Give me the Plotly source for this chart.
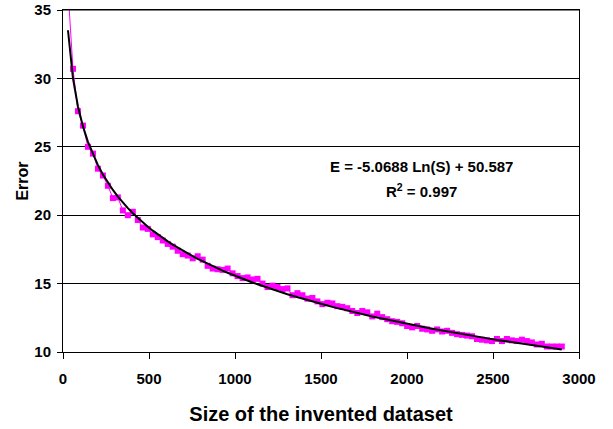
import numpy as np
import plotly.graph_objects as go

sizes = [29 * k for k in range(1, 101)]
errors = [
    36.5, 30.7, 27.6, 26.55, 25.0, 24.5, 23.4, 22.9, 22.15, 21.25,
    21.3, 20.35, 20.0, 20.25, 19.65, 19.1, 19.0, 18.6, 18.4, 18.15,
    17.9, 17.7, 17.4, 17.15, 17.05, 16.85, 17.0, 16.75, 16.3, 16.1,
    16.05, 16.0, 16.1, 15.75, 15.55, 15.4, 15.45, 15.3, 15.35, 15.0,
    14.75, 14.85, 14.75, 14.6, 14.65, 14.15, 14.3, 14.15, 13.9, 13.95,
    13.7, 13.5, 13.6, 13.55, 13.35, 13.3, 13.2, 13.0, 12.85, 13.0,
    12.9, 12.6, 12.8, 12.55, 12.4, 12.25, 12.2, 12.1, 11.9, 11.8,
    11.9, 11.7, 11.65, 11.55, 11.65, 11.5, 11.55, 11.4, 11.3, 11.25,
    11.2, 11.15, 10.95, 10.9, 10.85, 10.8, 10.95, 10.8, 10.95, 10.85,
    10.8, 10.9, 10.8, 10.7, 10.55, 10.6, 10.4, 10.4, 10.4, 10.4,
]

# Logarithmic trend line coefficients (from the chart label)
fit_slope = -5.0688
fit_intercept = 50.587
r_squared = 0.997

x_ticks = [0, 500, 1000, 1500, 2000, 2500, 3000]
y_ticks = [10, 15, 20, 25, 30, 35]

trend_y = fit_slope * np.log(np.array(sizes, dtype=float)) + fit_intercept

FONT = "Liberation Sans, Arial, sans-serif"

fig = go.Figure()
fig.add_trace(go.Scatter(
    x=sizes, y=errors, mode="lines+markers",
    line=dict(color="#FF00FF", width=1),
    marker=dict(symbol="square", size=6, color="#FF00FF"),
    showlegend=False, hoverinfo="skip",
))
fig.add_trace(go.Scatter(
    x=sizes, y=trend_y, mode="lines",
    line=dict(color="#000000", width=2),
    showlegend=False, hoverinfo="skip",
))

fig.add_annotation(
    x=(421 - 63) / 516, y=(352 - 167) / 342, xref="paper", yref="paper",
    xanchor="center", yanchor="middle",
    text="<b>E = %.4f Ln(S) + %.3f</b>" % (fit_slope, fit_intercept), showarrow=False,
    font=dict(family=FONT, size=15, color="#000"),
)
fig.add_annotation(
    x=(421 - 63) / 516, y=(352 - 191) / 342, xref="paper", yref="paper",
    xanchor="center", yanchor="middle",
    text="<b>R<sup>2</sup> = %s</b>" % r_squared, showarrow=False,
    font=dict(family=FONT, size=15, color="#000"),
)
# top border of the plot area
fig.add_shape(type="line", xref="paper", yref="paper", x0=0, x1=1, y0=1, y1=1,
              line=dict(color="#000", width=1), layer="above")

fig.update_layout(
    width=613, height=429,
    margin=dict(l=63, r=34, t=10, b=77),
    paper_bgcolor="white", plot_bgcolor="white",
    font=dict(family=FONT, color="#000"),
    xaxis=dict(
        range=[0, 3000], tickvals=x_ticks,
        ticktext=["<b>%d</b>" % v for v in x_ticks],
        tickfont=dict(family=FONT, size=15, color="#000"),
        showgrid=False, zeroline=False, automargin=False,
        ticklabeloverflow="allow",
        showline=True, linecolor="#000", linewidth=1, mirror=True,
        ticks="outside", ticklen=6, tickcolor="#000",
        ticklabelstandoff=7,
        title=dict(text="<b>Size of the invented dataset</b>",
                   font=dict(family=FONT, size=20, color="#000"), standoff=20),
    ),
    yaxis=dict(
        range=[10, 35], tickvals=y_ticks,
        ticktext=["<b>%d</b>" % v for v in y_ticks],
        tickfont=dict(family=FONT, size=15, color="#000"),
        showgrid=True, gridcolor="#000", gridwidth=1, zeroline=False,
        automargin=False, ticklabeloverflow="allow",
        showline=True, linecolor="#000", linewidth=1, mirror=True,
        ticks="outside", ticklen=5, tickcolor="#000",
        ticklabelstandoff=3,
        title=dict(text="<b>Error</b>",
                   font=dict(family=FONT, size=16, color="#000"), standoff=1),
    ),
)

fig.write_html("out.html", config={"displayModeBar": False},
               post_script="document.body.style.margin='0';")
